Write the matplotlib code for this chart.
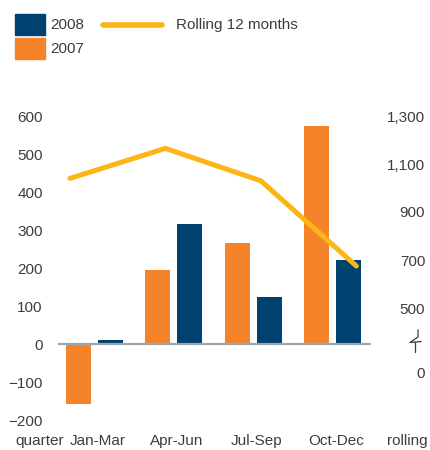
import numpy as np
import matplotlib
matplotlib.use("Agg")
import matplotlib.pyplot as plt
from matplotlib.lines import Line2D
from matplotlib.patches import Rectangle

# data
quarters = ["Jan-Mar", "Apr-Jun", "Jul-Sep", "Oct-Dec"]
val_2007 = [-157, 195, 265, 575]
val_2008 = [10, 317, 125, 220]
rolling_12m = [1040, 1165, 1030, 675]

left_ticks = [-200, -100, 0, 100, 200, 300, 400, 500, 600]
right_ticks = [500, 700, 900, 1100, 1300]
right_labels = ["500", "700", "900", "1,100", "1,300"]

NAVY = "#00426f"
ORANGE = "#f5832a"
YELLOW = "#fdb515"
GREY = "#9ba7b0"
TXT = "#3d3d3d"

plt.rcParams["font.family"] = ["Liberation Sans", "DejaVu Sans"]
plt.rcParams["font.size"] = 11

W, H = 430, 450
fig = plt.figure(figsize=(W / 100, H / 100), dpi=100)

def fx(x):
    return x / W

def fy(y):
    return (H - y) / H

# plot area in pixels: x 58..371, y 116..420
ax = fig.add_axes([fx(58), fy(420), fx(371) - fx(58), fy(116) - fy(420)])
x = np.arange(len(quarters))
bw = 0.315
off = 0.2
ax.bar(x - off, val_2007, bw, color=ORANGE, zorder=2)
ax.bar(x + off, val_2008, bw, color=NAVY, zorder=2)
ax.axhline(0, color=GREY, lw=1.6, zorder=3)
ax.set_xlim(-0.46, 3.485)
ax.set_ylim(-200, 600)
ax.set_yticks(left_ticks)
ax.set_xticks(x + 0.04)
ax.set_xticklabels(quarters)
ax.tick_params(length=0, colors=TXT, labelsize=11)
ax.tick_params(axis="y", pad=11)
ax.tick_params(axis="x", pad=10)
for s in ax.spines.values():
    s.set_visible(False)

# rolling line on a right scale (broken below 500)
ax2 = ax.twinx()
per_px = 800 / 192.0
ax2.set_ylim(1300 - 304 * per_px, 1300)
fake_zero = 1300 - (373 - 116) * per_px
ax2.set_yticks([fake_zero] + right_ticks)
ax2.set_yticklabels(["0"] + right_labels)
ax2.tick_params(length=0, colors=TXT, labelsize=11, pad=39)
for lab in ax2.get_yticklabels():
    lab.set_horizontalalignment("right")
for s in ax2.spines.values():
    s.set_visible(False)
xl = np.linspace(x[0] - 0.31, x[-1] + 0.30, len(rolling_12m))
ax2.plot(xl, rolling_12m, color=YELLOW, lw=3.6, solid_capstyle="round",
         solid_joinstyle="miter", zorder=4)

# axis break mark on the right
fig.add_artist(Line2D([fx(418), fx(418), fx(410), fx(421)],
                      [fy(330), fy(337), fy(342.5), fy(341.5)], color=TXT, lw=0.9))
fig.add_artist(Line2D([fx(415), fx(415)], [fy(342), fy(352)], color=TXT, lw=0.9))

fig.text(fx(15), fy(441), "quarter", color=TXT, ha="left", va="center")
fig.text(fx(428), fy(441), "rolling", color=TXT, ha="right", va="center")

# legend
fig.add_artist(Rectangle((fx(15), fy(35)), fx(30), 21 / H, color=NAVY))
fig.add_artist(Rectangle((fx(15), fy(59)), fx(30), 21 / H, color=ORANGE))
fig.text(fx(50), fy(25), "2008", color=TXT, ha="left", va="center")
fig.text(fx(50), fy(49), "2007", color=TXT, ha="left", va="center")
fig.add_artist(Line2D([fx(103), fx(162)], [fy(24.5), fy(24.5)], color=YELLOW,
                      lw=4, solid_capstyle="round"))
fig.text(fx(176), fy(25), "Rolling 12 months", color=TXT, ha="left", va="center")

fig.savefig("out.png", dpi=100)
